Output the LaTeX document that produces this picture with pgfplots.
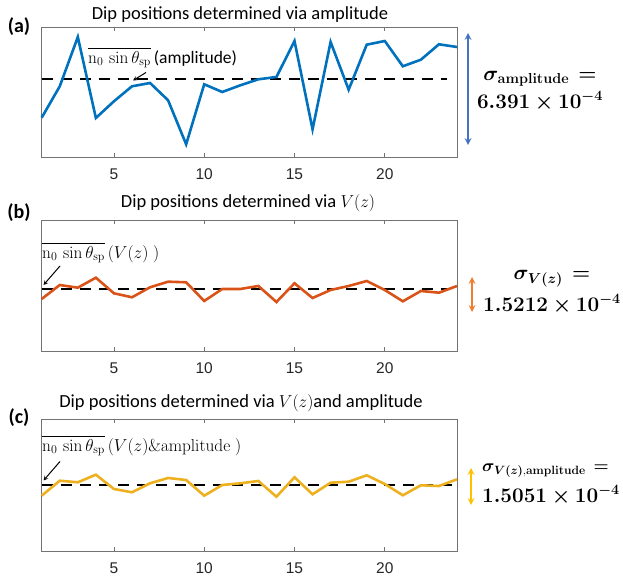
\documentclass[border=0pt]{standalone}
\usepackage{pgfplots}
\pgfplotsset{compat=1.18}
\usepackage{amsmath}
\usepackage{bm}
\usepackage[no-math]{fontspec}
\setmainfont{Carlito}
\newfontfamily\arial{Liberation Sans}
\definecolor{mblue}{HTML}{0072BD}
\definecolor{morange}{HTML}{D95319}
\definecolor{myellow}{HTML}{EDB120}
\definecolor{ablue}{HTML}{4472C4}
\definecolor{aorange}{HTML}{ED7D31}
\definecolor{ayellow}{HTML}{FFC000}
\pgfplotsset{panel/.style={
  scale only axis, width=415.3pt,
  xmin=1, xmax=24, ymin=0,
  xtick={5,10,15,20}, xticklabels={5,10,15,20},
  ytick=\empty,
  tick align=inside, major tick length=4pt,
  axis line style={black!55, line width=0.8pt},
  tick style={black!55, line width=0.8pt},
  xticklabel style={font=\arial\fontsize{15.5}{16}\selectfont, text=black!85, yshift=-8pt},
  clip=false,
}}
\begin{document}
\begin{tikzpicture}[x=1pt,y=1pt]
\useasboundingbox (0,0) rectangle (623,577);
% ---------------- (a)
\begin{axis}[panel, at={(41.7pt,420pt)}, anchor=south west, height=130pt, ymax=130]
\addplot[black, line width=2.2pt, dash pattern=on 11pt off 8pt] coordinates {(1,77.7) (23.45,77.7)};
\addplot[mblue, line width=2.6pt] coordinates {
(1,39.3) (2,70.7) (3,120) (4,39) (5,55.7) (6,70.7) (7,74) (8,56.7) (9,12.7) (10,72.7)
(11,65) (12,71.7) (13,77.7) (14,80) (15,116) (16,27.7) (17,115) (18,67.3) (19,112.3) (20,116)
(21,90.7) (22,97.3) (23,112.7) (24,110)};
\end{axis}
% ---------------- (b)
\begin{axis}[panel, at={(41.7pt,226pt)}, anchor=south west, height=131pt, ymax=131]
\addplot[black, line width=2.2pt, dash pattern=on 11pt off 8pt] coordinates {(1,61.7) (23.6,61.7)};
\addplot[morange, line width=2.6pt] coordinates {
(1,52) (2,66) (3,63.3) (4,73.3) (5,57.7) (6,53.7) (7,63.7) (8,69.3) (9,68.7) (10,50)
(11,62) (12,62) (13,65) (14,49) (15,67.7) (16,53) (17,61) (18,65) (19,70) (20,61)
(21,49.7) (22,60) (23,58.3) (24,65)};
\end{axis}
% ---------------- (c)
\begin{axis}[panel, at={(41.7pt,26pt)}, anchor=south west, height=132pt, ymax=132]
\addplot[black, line width=2.2pt, dash pattern=on 11pt off 8pt] coordinates {(1,66.3) (23.9,66.3)};
\addplot[myellow, line width=2.6pt] coordinates {
(1,55.3) (2,70.3) (3,68.7) (4,76.3) (5,62) (6,58.7) (7,67.7) (8,73) (9,71) (10,55.3)
(11,66) (12,67.7) (13,70) (14,54.3) (15,73.7) (16,56.7) (17,68.3) (18,69.3) (19,75.7) (20,67)
(21,55.7) (22,65.7) (23,65) (24,71.7)};
\end{axis}
% ---------------- titles and panel labels
\node[font=\fontsize{18.5}{20}\selectfont] at (240,562) {Dip positions determined via amplitude};
\node[font=\fontsize{18.5}{20}\selectfont] at (248,374) {Dip positions determined via $V(z)$};
\node[font=\fontsize{18.5}{20}\selectfont] at (241,174) {Dip positions determined via $V(z)$and amplitude};
\node[font=\fontsize{20}{22}\selectfont\bfseries] at (19,550) {(a)};
\node[font=\fontsize{20}{22}\selectfont\bfseries] at (19,364) {(b)};
\node[font=\fontsize{20}{22}\selectfont\bfseries] at (19,159) {(c)};
% ---------------- mean labels
\node[anchor=west, font=\fontsize{17.5}{18}\selectfont, inner sep=0pt] at (88,519) {$\overline{\mathrm{n}_0\,\sin\theta_{\mathrm{sp}}}$\,(amplitude)};
\draw[-stealth, line width=1pt] (146,504.5) -- (133,496.5);
\node[anchor=west, font=\fontsize{17.5}{18}\selectfont, inner sep=0pt] at (42,324) {$\overline{\mathrm{n}_0\,\sin\theta_{\mathrm{sp}}}\,(V(z)\;)$};
\draw[-stealth, line width=1pt] (60,311) -- (43.5,292);
\node[anchor=west, font=\fontsize{17.5}{18}\selectfont, inner sep=0pt] at (42,131) {$\overline{\mathrm{n}_0\,\sin\theta_{\mathrm{sp}}}\,(V(z)\mathrm{\&amplitude}\;)$};
\draw[-stealth, line width=1pt] (60,115.5) -- (43.5,96.5);
% ---------------- sigma annotations
\draw[ablue, stealth-stealth, line width=2pt] (468,544) -- (468,432);
\node[font=\fontsize{21}{22}\selectfont, inner sep=1pt] at (540,498) {$\bm{\sigma}_{\mathbf{amplitude}}\,\bm{=}$};
\node[font=\fontsize{21}{22}\selectfont, inner sep=1pt] at (540,476) {$\bm{6.391\times 10^{-4}}$};
\draw[aorange, stealth-stealth, line width=2pt] (472,300) -- (472,265);
\node[font=\fontsize{21}{22}\selectfont, inner sep=1pt] at (552,298) {$\bm{\sigma}_{\bm{V(z)}}\,\bm{=}$};
\node[font=\fontsize{21}{22}\selectfont, inner sep=1pt] at (552,273) {$\bm{1.5212\times 10^{-4}}$};
\draw[ayellow, stealth-stealth, line width=2pt] (471,109) -- (471,72);
\node[anchor=west, inner sep=0pt, font=\fontsize{18}{20}\selectfont] at (482,106) {$\bm{\sigma}_{\bm{V(z)},\mathbf{amplitude}}\,\bm{=}$};
\node[anchor=west, inner sep=0pt, font=\fontsize{20.5}{22}\selectfont] at (482,82) {$\bm{1.5051\times 10^{-4}}$};
\end{tikzpicture}
\end{document}
